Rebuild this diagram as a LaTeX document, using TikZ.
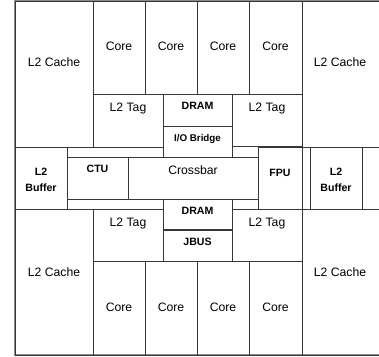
\documentclass[tikz,border=0pt]{standalone}
\usepackage{fontspec}
\setmainfont{Liberation Sans}
\usepackage{tikz}
\definecolor{wallc}{RGB}{55,55,55}
\definecolor{framec}{RGB}{140,140,140}

\begin{document}
\begin{tikzpicture}[
    x=1pt, y=-1pt,
    wall/.style={draw=wallc, line width=0.8pt},
    frame/.style={draw=framec, line width=1.3pt},
    thk/.style={draw=wallc, line width=1.5pt},
    lbl/.style={font=\fontsize{12.2}{14}\selectfont, inner sep=0pt, text depth=0pt},
    blbl/.style={font=\fontsize{10.6}{16}\selectfont\bfseries, inner sep=0pt, text depth=0pt, align=center}
  ]
  \useasboundingbox (0,0) rectangle (379,356);
  \fill[white] (0,0) rectangle (379,356);

  % outer frame
  \draw[frame] (379,1) -- (15,1) -- (15,355) -- (379,355);

  % upper half
  \draw[wall] (15,1) rectangle (93,147);
  \draw[wall] (93,1) rectangle (145,94);
  \draw[wall] (145,1) rectangle (197,94);
  \draw[wall] (197,1) rectangle (249,94);
  \draw[wall] (249,1) rectangle (302,94);
  \draw[wall] (379,1) -- (302,1) -- (302,147) -- (379,147);
  \draw[wall] (93,94) rectangle (163,147);
  \draw[wall] (163,94) rectangle (232,126);
  \draw[wall] (163,126) rectangle (232,157);
  \draw[wall] (232,94) rectangle (302,146);

  % middle band
  \draw[wall] (15,147) rectangle (67,209);
  \draw[wall] (67,147) -- (163,147);
  \draw[wall] (67,157) rectangle (128,199);
  \draw[wall] (128,157) rectangle (258,199);
  \draw[wall] (67,209) -- (163,209);
  \draw[wall] (258,147) rectangle (302,209);
  \draw[thk] (258,147) -- (302,147);
  \draw[wall] (310,147) rectangle (362,209);
  \draw[wall] (302,209) -- (379,209);

  % lower half
  \draw[wall] (163,199) rectangle (232,261);
  \draw[thk] (163,230) -- (232,230);
  \draw[wall] (93,209) rectangle (163,261);
  \draw[wall] (232,209) rectangle (302,261);
  \draw[wall] (15,209) rectangle (93,355);
  \draw[wall] (93,261) rectangle (145,355);
  \draw[wall] (145,261) rectangle (197,355);
  \draw[wall] (197,261) rectangle (249,355);
  \draw[wall] (249,261) rectangle (302,355);
  \draw[wall] (379,209) -- (302,209) -- (302,355) -- (379,355);

  % labels
  \node[lbl] (cacheTL) at (54,62)    {L2 Cache};
  \node[lbl] (cacheTR) at (340,62)   {L2 Cache};
  \node[lbl] (cacheBL) at (54,272)   {L2 Cache};
  \node[lbl] (cacheBR) at (340,272)  {L2 Cache};
  \node[lbl] (coreTa)  at (119,46)   {Core};
  \node[lbl] (coreTb)  at (171,46)   {Core};
  \node[lbl] (coreTc)  at (223,46)   {Core};
  \node[lbl] (coreTd)  at (275.5,46) {Core};
  \node[lbl] (coreBa)  at (119,307)  {Core};
  \node[lbl] (coreBb)  at (171,307)  {Core};
  \node[lbl] (coreBc)  at (223,307)  {Core};
  \node[lbl] (coreBd)  at (275.5,307) {Core};
  \node[lbl] (tagTL)   at (128,107)  {L2 Tag};
  \node[lbl] (tagTR)   at (267,107)  {L2 Tag};
  \node[lbl] (tagBL)   at (128,222)  {L2 Tag};
  \node[lbl] (tagBR)   at (267,222)  {L2 Tag};
  \node[lbl] (xbar)    at (193,170)  {Crossbar};
  \node[blbl] (dramT)  at (197.5,106) {DRAM};
  \node[blbl, font=\fontsize{9.8}{12}\selectfont\bfseries] (iob) at (197.5,138) {I/O Bridge};
  \node[blbl] (dramB)  at (197.5,211) {DRAM};
  \node[blbl] (jbus)   at (197.5,242) {JBUS};
  \node[blbl] (ctu)    at (97.5,169)  {CTU};
  \node[blbl] (fpu)    at (280,173)   {FPU};
  \node[blbl] (bufL)   at (41,180)    {L2\\Buffer};
  \node[blbl] (bufR)   at (336,180)   {L2\\Buffer};
\end{tikzpicture}
\end{document}
